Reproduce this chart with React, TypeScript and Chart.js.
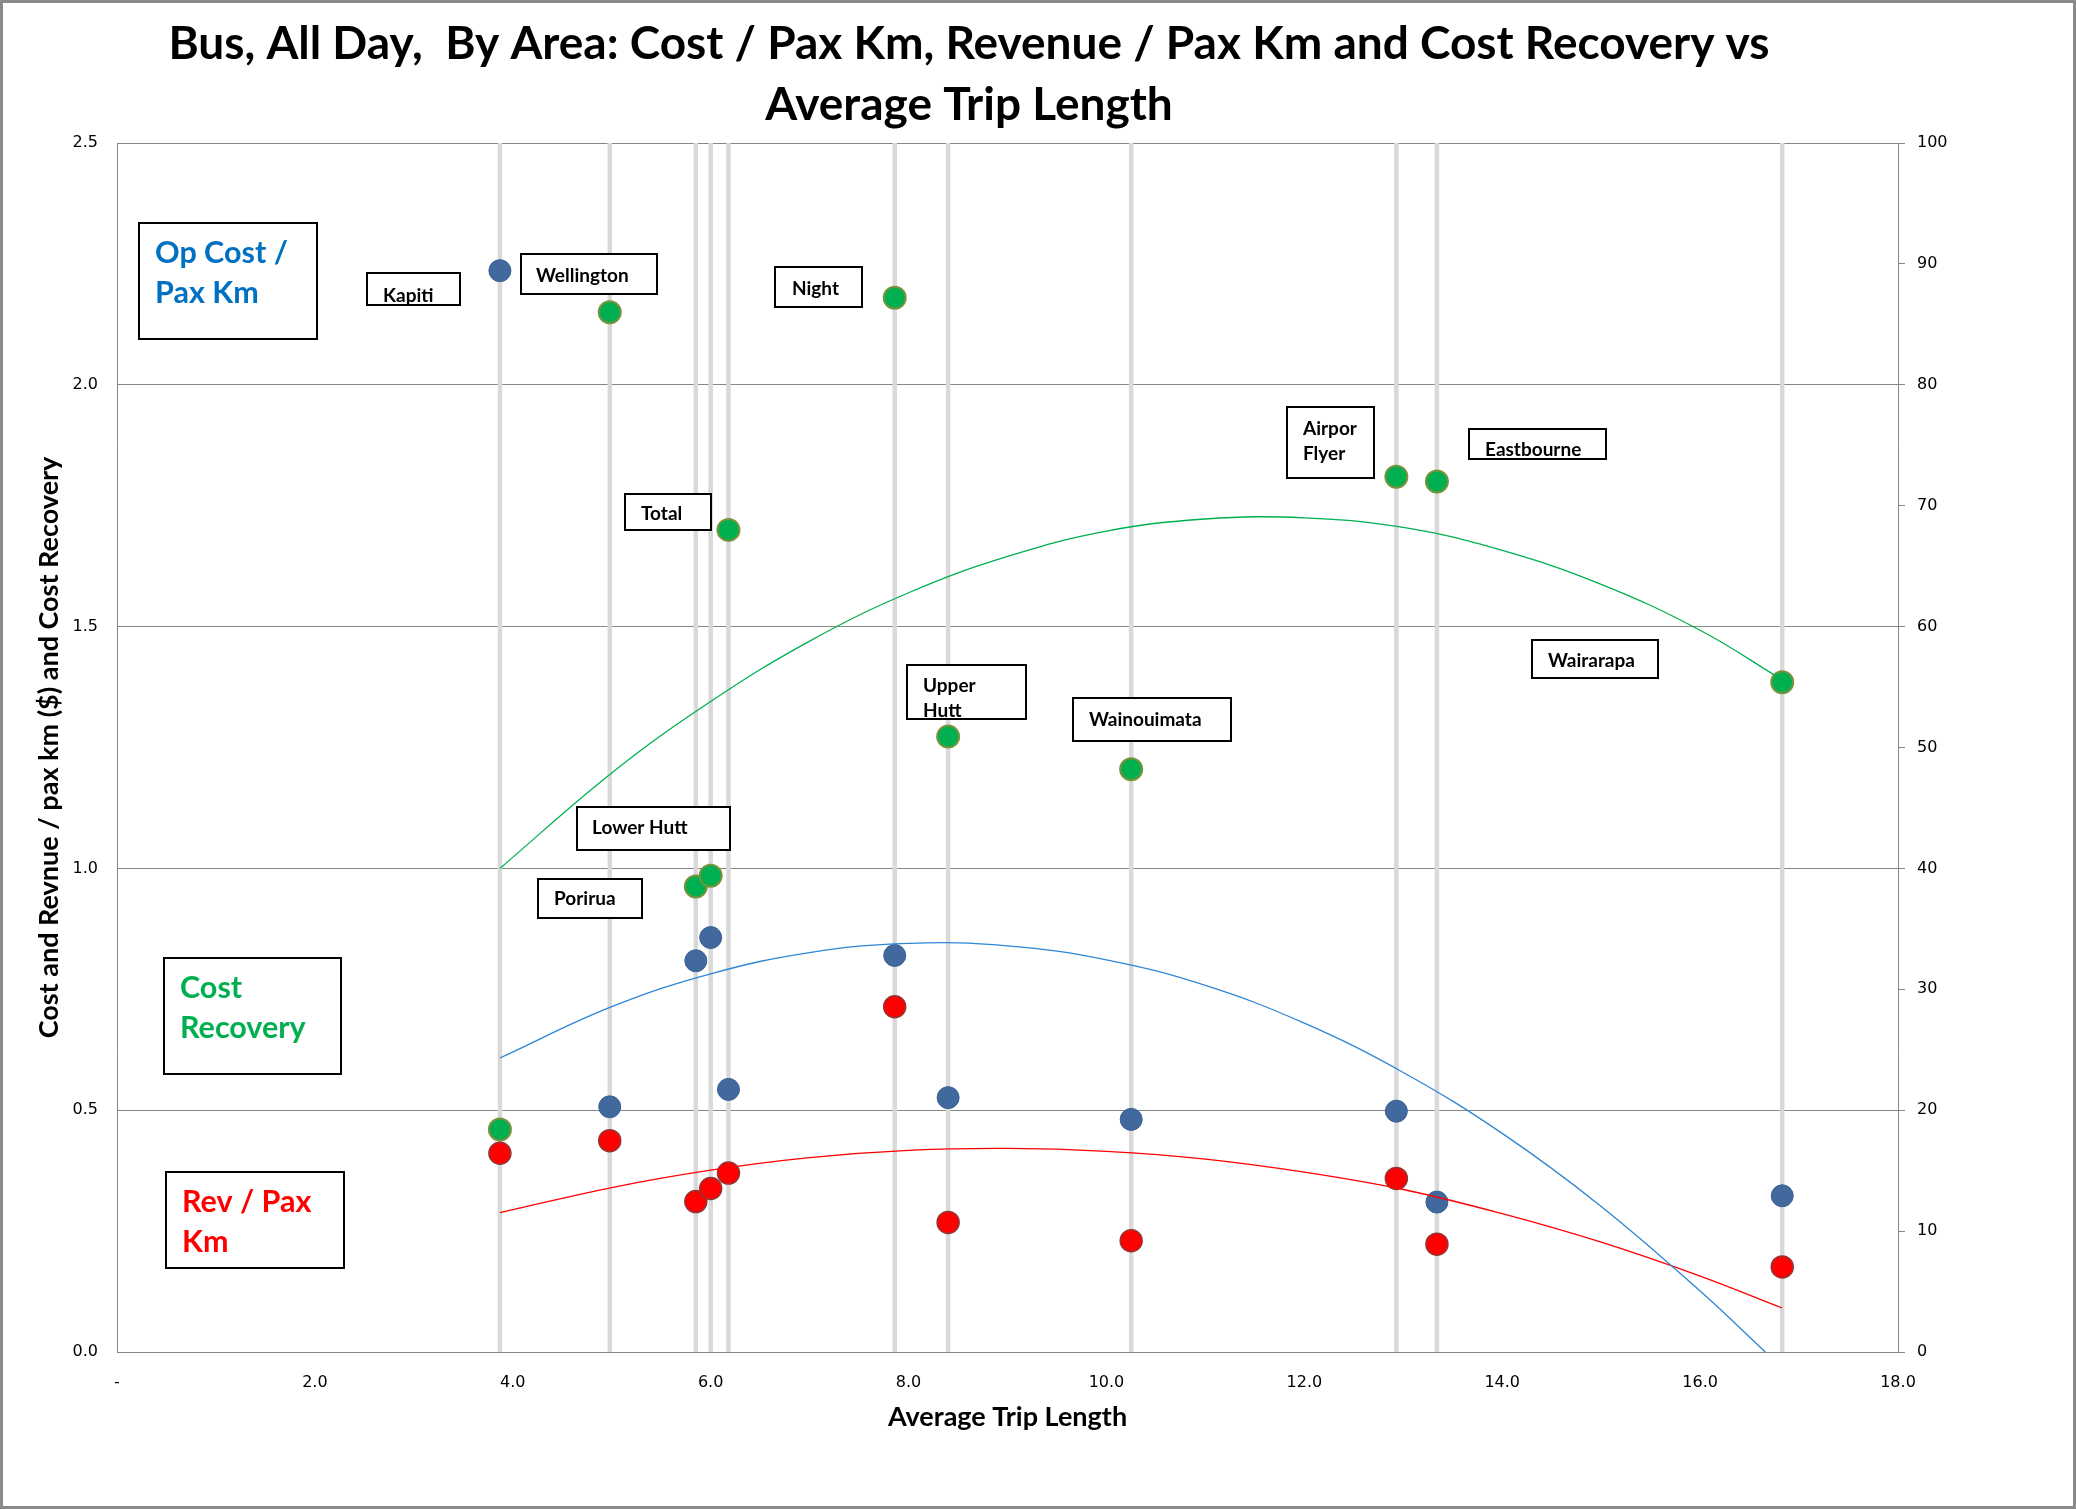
import React, { useEffect, useRef } from 'react';
import { Chart, registerables } from 'chart.js';

Chart.register(...registerables);

// ---- Data ----
const areas = ['Kapiti', 'Wellington', 'Porirua', 'Lower Hutt', 'Total', 'Night', 'Upper Hutt', 'Wainouimata', 'Airport Flyer', 'Eastbourne', 'Wairarapa'];
const tripLength = [3.87, 4.98, 5.85, 6.0, 6.18, 7.86, 8.4, 10.25, 12.93, 13.34, 16.83];
const opCostPerPaxKm = [2.236, 0.507, 0.809, 0.857, 0.543, 0.82, 0.526, 0.481, 0.498, 0.31, 0.323];
const revPerPaxKm = [0.411, 0.437, 0.311, 0.338, 0.37, 0.714, 0.268, 0.23, 0.359, 0.223, 0.176];
const costRecoveryPct = [18.4, 86.0, 38.5, 39.4, 68.0, 87.2, 50.9, 48.2, 72.4, 72.0, 55.4];

// trendlines
const costTrendX = [3.87, 5, 6, 7, 8, 9, 10, 11, 12, 13, 14, 15, 16, 16.66];
const costTrendY = [0.608, 0.714, 0.782, 0.826, 0.845, 0.84, 0.811, 0.758, 0.68, 0.578, 0.452, 0.301, 0.126, 0.0];
const revTrendX = [3.87, 5, 6, 7, 8, 9, 10, 11, 12, 13, 14, 15, 16, 16.83];
const revTrendY = [0.288, 0.34, 0.376, 0.402, 0.417, 0.421, 0.415, 0.399, 0.372, 0.336, 0.286, 0.227, 0.157, 0.091];
const recTrendX = [3.87, 5, 6, 7, 8, 9, 10, 11, 12, 13, 14, 15, 16, 16.83];
const recTrendY = [40.0, 47.9, 53.8, 58.8, 62.8, 65.8, 67.9, 68.9, 69.0, 68.2, 66.3, 63.5, 59.7, 55.6];

const xTickStep = 2;
const leftTickStep = 0.5;
const rightTickStep = 10;

const titleLines = ['Bus, All Day,  By Area: Cost / Pax Km, Revenue / Pax Km and Cost Recovery vs', 'Average Trip Length'];
const xTitle = 'Average Trip Length';
const yTitle = 'Cost and Revnue / pax km ($) and Cost Recovery';

// ---- Layout of the text boxes (pixels) ----
type Box = { l: number; t: number; r: number; b: number; lines: string[]; tx: number; ty: number[]; color: string; size: number };
const LS = 19;
const BS = 30.5;
const labelBoxes: Box[] = [
  { l: 367, t: 273, r: 460, b: 305, lines: ['Kapiti'], tx: 383, ty: [296], color: '#000', size: LS },
  { l: 521, t: 254, r: 657, b: 294, lines: ['Wellington'], tx: 536, ty: [276], color: '#000', size: LS },
  { l: 775, t: 267, r: 862, b: 307, lines: ['Night'], tx: 792, ty: [289], color: '#000', size: LS },
  { l: 625, t: 494, r: 711, b: 530, lines: ['Total'], tx: 641, ty: [514], color: '#000', size: LS },
  { l: 1287, t: 407, r: 1374, b: 478, lines: ['Airpor', 'Flyer'], tx: 1303, ty: [429, 454], color: '#000', size: LS },
  { l: 1469, t: 429, r: 1606, b: 459, lines: ['Eastbourne'], tx: 1485, ty: [450], color: '#000', size: LS },
  { l: 1532, t: 640, r: 1658, b: 678, lines: ['Wairarapa'], tx: 1548, ty: [661], color: '#000', size: LS },
  { l: 907, t: 665, r: 1026, b: 719, lines: ['Upper', 'Hutt'], tx: 923, ty: [686, 711], color: '#000', size: LS },
  { l: 1073, t: 698, r: 1231, b: 741, lines: ['Wainouimata'], tx: 1089, ty: [720], color: '#000', size: LS },
  { l: 577, t: 807, r: 730, b: 850, lines: ['Lower Hutt'], tx: 592, ty: [828], color: '#000', size: LS },
  { l: 538, t: 879, r: 642, b: 918, lines: ['Porirua'], tx: 554, ty: [899], color: '#000', size: LS },
  { l: 139, t: 223, r: 317, b: 339, lines: ['Op Cost /', 'Pax Km'], tx: 155, ty: [253, 293], color: '#0070C0', size: BS },
  { l: 164, t: 958, r: 341, b: 1074, lines: ['Cost', 'Recovery'], tx: 180, ty: [988, 1028], color: '#00B050', size: BS },
  { l: 166, t: 1172, r: 344, b: 1268, lines: ['Rev / Pax', 'Km'], tx: 182, ty: [1202, 1242], color: '#FF0000', size: BS },
];

const W = 2076;
const H = 1509;
const FONT = 'Lato, "Open Sans", sans-serif';
const TICK_FONT = '"DejaVu Sans", sans-serif';

const decorPlugin = {
  id: 'decor',
  beforeDraw(chart: any) {
    const ctx = chart.ctx;
    ctx.save();
    ctx.fillStyle = '#ffffff';
    ctx.fillRect(0, 0, chart.width, chart.height);
    ctx.restore();
  },
  afterDraw(chart: any) {
    const ctx = chart.ctx;
    ctx.save();
    ctx.fillStyle = '#000';
    ctx.font = `bold 46px ${FONT}`;
    ctx.textAlign = 'center';
    ctx.textBaseline = 'middle';
    titleLines.forEach((t, i) => ctx.fillText(t, 969, 44 + i * 61));

    for (const b of labelBoxes) {
      ctx.fillStyle = '#ffffff';
      ctx.fillRect(b.l, b.t, b.r - b.l, b.b - b.t);
      ctx.fillStyle = b.color;
      ctx.font = `bold ${b.size}px ${FONT}`;
      ctx.textAlign = 'left';
      ctx.textBaseline = 'middle';
      b.lines.forEach((ln, i) => ctx.fillText(ln, b.tx, b.ty[i]));
      ctx.strokeStyle = '#000';
      ctx.lineWidth = 2;
      ctx.strokeRect(b.l, b.t, b.r - b.l, b.b - b.t);
    }

    ctx.strokeStyle = '#8a8a8a';
    ctx.lineWidth = 3;
    ctx.strokeRect(1.5, 1.5, chart.width - 3, chart.height - 3);
    ctx.restore();
  },
};

export default function App() {
  const ref = useRef<HTMLCanvasElement | null>(null);

  useEffect(() => {
    document.body.style.margin = '0';
    const canvas = ref.current;
    if (!canvas) return;

    const dropLines: any[] = [];
    tripLength.forEach((x) => {
      dropLines.push({ x, y: 0 }, { x, y: 2.5 }, { x, y: null });
    });

    const chart = new Chart(canvas, {
      type: 'scatter',
      data: {
        datasets: [
          {
            label: 'Cost trend',
            data: costTrendX.map((x, i) => ({ x, y: costTrendY[i] })),
            yAxisID: 'y',
            showLine: true,
            borderColor: '#2E86D4',
            borderWidth: 1.3,
            pointRadius: 0,
            tension: 0.4,
            order: 0,
          },
          {
            label: 'Revenue trend',
            data: revTrendX.map((x, i) => ({ x, y: revTrendY[i] })),
            yAxisID: 'y',
            showLine: true,
            borderColor: '#FF0000',
            borderWidth: 1.3,
            pointRadius: 0,
            tension: 0.4,
            order: 0,
          },
          {
            label: 'Cost recovery trend',
            data: recTrendX.map((x, i) => ({ x, y: recTrendY[i] })),
            yAxisID: 'y1',
            showLine: true,
            borderColor: '#00B050',
            borderWidth: 1.3,
            pointRadius: 0,
            tension: 0.4,
            order: 0,
          },
          {
            label: 'Op Cost / Pax Km',
            data: tripLength.map((x, i) => ({ x, y: opCostPerPaxKm[i] })),
            yAxisID: 'y',
            backgroundColor: '#41699E',
            borderColor: '#3B6193',
            borderWidth: 1,
            pointRadius: 11,
            order: 1,
          },
          {
            label: 'Rev / Pax Km',
            data: tripLength.map((x, i) => ({ x, y: revPerPaxKm[i] })),
            yAxisID: 'y',
            backgroundColor: '#FF0000',
            borderColor: '#943634',
            borderWidth: 1.5,
            pointRadius: 11,
            order: 1,
          },
          {
            label: 'Cost Recovery',
            data: tripLength.map((x, i) => ({ x, y: costRecoveryPct[i] })),
            yAxisID: 'y1',
            backgroundColor: '#00B050',
            borderColor: '#77933C',
            borderWidth: 2,
            pointRadius: 11,
            order: 1,
          },
          {
            label: 'Drop lines',
            data: dropLines,
            yAxisID: 'y',
            showLine: true,
            spanGaps: false,
            borderColor: '#D9D9D9',
            borderWidth: 4.5,
            pointRadius: 0,
            order: 2,
          },
        ],
      },
      options: {
        animation: false,
        responsive: false,
        devicePixelRatio: 1,
        layout: { padding: { top: 143, left: 0, right: 0, bottom: 0 } },
        plugins: {
          legend: { display: false },
          tooltip: { enabled: false },
          title: { display: false },
        },
        scales: {
          x: {
            type: 'linear',
            position: 'bottom',
            min: 0,
            max: 18,
            grid: { display: false, drawTicks: false },
            border: { display: true, color: '#868686', width: 1 },
            ticks: {
              stepSize: xTickStep,
              autoSkip: false,
              maxRotation: 0,
              padding: 21,
              color: '#000',
              font: { family: TICK_FONT, size: 16 },
              callback: (v: any) => (Number(v) === 0 ? '-' : Number(v).toFixed(1)),
            },
            title: {
              display: true,
              text: xTitle,
              color: '#000',
              font: { family: FONT, size: 27, weight: 'bold' },
              padding: { top: 0, bottom: 76 },
            },
            afterFit: (s: any) => {
              s.height = 157;
            },
          },
          y: {
            type: 'linear',
            position: 'left',
            min: 0,
            max: 2.5,
            grid: { color: '#868686', lineWidth: 1, drawTicks: false },
            border: { display: true, color: '#868686', width: 1 },
            ticks: {
              stepSize: leftTickStep,
              padding: 19,
              color: '#000',
              font: { family: TICK_FONT, size: 16 },
              callback: (v: any) => Number(v).toFixed(1),
            },
            title: {
              display: true,
              text: yTitle,
              color: '#000',
              font: { family: FONT, size: 27, weight: 'bold' },
              padding: { top: 33, bottom: 0 },
            },
            afterFit: (s: any) => {
              s.width = 117;
            },
          },
          y1: {
            type: 'linear',
            position: 'right',
            min: 0,
            max: 100,
            grid: { drawOnChartArea: false, drawTicks: true, tickLength: 7, color: '#868686' },
            border: { display: true, color: '#868686', width: 1 },
            ticks: {
              stepSize: rightTickStep,
              padding: 12,
              color: '#000',
              font: { family: TICK_FONT, size: 16 },
            },
            afterFit: (s: any) => {
              s.width = 178;
            },
          },
        },
      },
      plugins: [decorPlugin],
    } as any);

    return () => chart.destroy();
  }, []);

  return <canvas ref={ref} width={W} height={H} style={{ display: 'block', width: W, height: H }} />;
}
